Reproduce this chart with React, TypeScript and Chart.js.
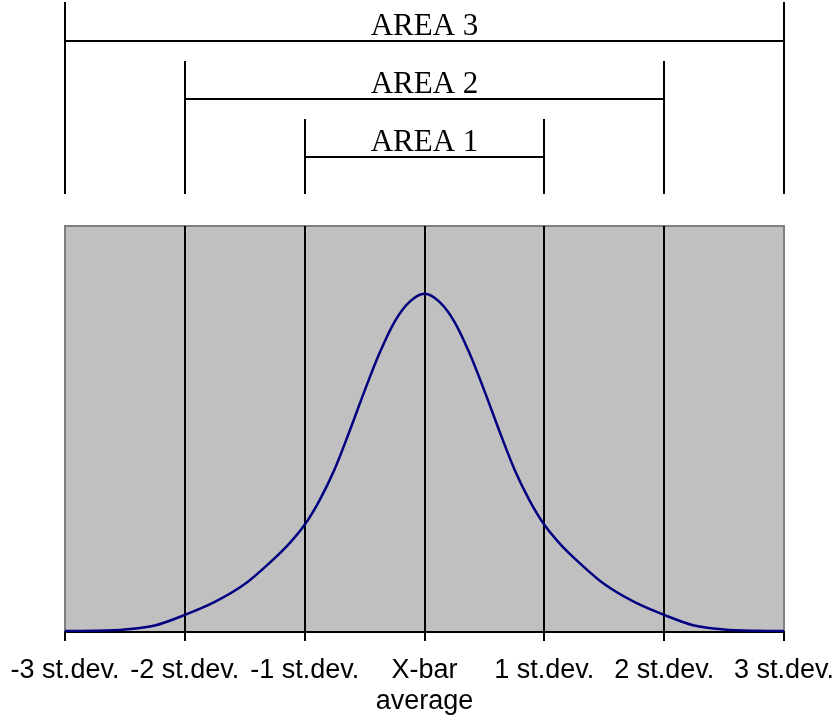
import React, { useEffect, useRef } from "react";
import { Chart, registerables } from "chart.js";

Chart.register(...registerables);

const xValues = [-3, -2.75, -2.5, -2.25, -2, -1.75, -1.5, -1.25, -1.125, -1, -0.875, -0.75, -0.625, -0.5, -0.375, -0.25, -0.125, 0, 0.125, 0.25, 0.375, 0.5, 0.625, 0.75, 0.875, 1, 1.125, 1.25, 1.5, 1.75, 2, 2.25, 2.5, 2.75, 3];
const densityValues = [0.0025, 0.003, 0.006, 0.016, 0.042, 0.074, 0.118, 0.182, 0.219, 0.264, 0.325, 0.401, 0.495, 0.594, 0.687, 0.764, 0.813, 0.833, 0.813, 0.764, 0.687, 0.594, 0.495, 0.401, 0.325, 0.264, 0.219, 0.182, 0.118, 0.074, 0.042, 0.016, 0.006, 0.003, 0.0025];
const tickValues = [-3, -2, -1, 0, 1, 2, 3];
const tickLabels: (string | string[])[] = ["-3 st.dev.", "-2 st.dev.", "-1 st.dev.", ["X-bar", "average"], "1 st.dev.", "2 st.dev.", "3 st.dev."];
const areaNames = ["AREA 1", "AREA 2", "AREA 3"];
const areaHalfWidths = [1, 2, 3];

const bgPlugin = {
  id: "plotBg",
  beforeDraw(chart: any) {
    const { ctx, chartArea } = chart;
    ctx.save();
    ctx.fillStyle = "#c0c0c0";
    ctx.fillRect(chartArea.left, chartArea.top, chartArea.right - chartArea.left, chartArea.bottom - chartArea.top);
    ctx.strokeStyle = "#808080";
    ctx.lineWidth = 2;
    ctx.strokeRect(chartArea.left, chartArea.top, chartArea.right - chartArea.left, chartArea.bottom - chartArea.top);
    ctx.restore();
  },
};

const bracketPlugin = {
  id: "areaBrackets",
  afterDraw(chart: any) {
    const { ctx } = chart;
    const xs = chart.scales.x;
    const lineY = [157, 99, 41];
    const topY = [119, 61, 2];
    const bottomY = 194;
    ctx.save();
    ctx.strokeStyle = "#000";
    ctx.lineWidth = 2;
    ctx.fillStyle = "#000";
    ctx.font = "31px 'Liberation Serif', 'Times New Roman', serif";
    ctx.textAlign = "center";
    ctx.textBaseline = "alphabetic";
    areaNames.forEach((name, i) => {
      const w = areaHalfWidths[i];
      const x1 = Math.round(xs.getPixelForValue(-w));
      const x2 = Math.round(xs.getPixelForValue(w));
      ctx.beginPath();
      ctx.moveTo(x1, topY[i]);
      ctx.lineTo(x1, bottomY);
      ctx.moveTo(x2, topY[i]);
      ctx.lineTo(x2, bottomY);
      ctx.moveTo(x1, lineY[i]);
      ctx.lineTo(x2, lineY[i]);
      ctx.stroke();
      ctx.fillText(name, (x1 + x2) / 2, lineY[i] - 6);
    });
    ctx.restore();
  },
};

export default function App() {
  const ref = useRef<HTMLCanvasElement | null>(null);
  useEffect(() => {
    if (!ref.current) return;
    const chart = new Chart(ref.current, {
      type: "line",
      data: {
        datasets: [
          {
            data: xValues.map((x, i) => ({ x, y: densityValues[i] })),
            borderColor: "#000080",
            borderWidth: 2.5,
            pointRadius: 0,
            fill: false,
            cubicInterpolationMode: "monotone",
          },
        ],
      },
      options: {
        animation: false,
        responsive: false,
        maintainAspectRatio: false,
        layout: { padding: { left: 65, right: 51, top: 226, bottom: 0 } },
        plugins: { legend: { display: false }, tooltip: { enabled: false }, title: { display: false } },
        scales: {
          x: {
            type: "linear",
            min: -3,
            max: 3,
            afterBuildTicks: (scale: any) => {
              scale.ticks = tickValues.map((v) => ({ value: v }));
            },
            afterFit: (scale: any) => {
              scale.height = 89;
              scale.paddingLeft = 0;
              scale.paddingRight = 0;
            },
            ticks: {
              callback: (v: any) => {
                const idx = tickValues.indexOf(Number(v));
                return idx >= 0 ? tickLabels[idx] : "";
              },
              color: "#000",
              font: { family: "'Liberation Sans', Arial, sans-serif", size: 27, lineHeight: 1.15 },
              maxRotation: 0,
              autoSkip: false,
              padding: 14,
            },
            grid: {
              color: (c: any) => (c.tick && Math.abs(c.tick.value) === 3 ? "#808080" : "#000"),
              tickColor: "#000",
              lineWidth: 2,
              tickLength: 9,
              drawOnChartArea: true,
            },
            border: { display: true, color: "#000", width: 2 },
          },
          y: {
            display: false,
            min: 0,
            max: 1,
          },
        },
      },
      plugins: [bgPlugin, bracketPlugin],
    });
    return () => chart.destroy();
  }, []);
  return (
    <div style={{ position: "absolute", left: 0, top: 0, width: 835, height: 721 }}>
      <canvas ref={ref} width={835} height={721} style={{ width: 835, height: 721 }} />
    </div>
  );
}
